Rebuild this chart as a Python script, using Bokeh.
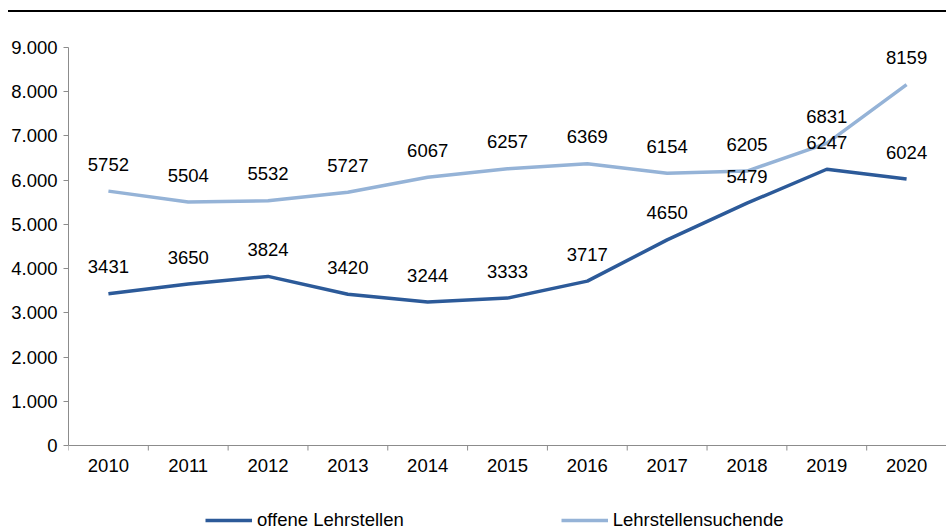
import math
from bokeh.plotting import figure
from bokeh.models import (Range1d, FactorRange, FixedTicker, Span,
                          Legend, LegendItem, Div, ColumnDataSource)
from bokeh.layouts import column
from bokeh.core.properties import value
from bokeh.embed import file_html
from bokeh.resources import INLINE

years = ["2010", "2011", "2012", "2013", "2014", "2015", "2016", "2017", "2018", "2019", "2020"]
offene = [3431, 3650, 3824, 3420, 3244, 3333, 3717, 4650, 5479, 6247, 6024]
suchende = [5752, 5504, 5532, 5727, 6067, 6257, 6369, 6154, 6205, 6831, 8159]
y_ticks = [0, 1000, 2000, 3000, 4000, 5000, 6000, 7000, 8000, 9000]
y_tick_labels = ["0", "1.000", "2.000", "3.000", "4.000", "5.000", "6.000", "7.000", "8.000", "9.000"]
series_names = ["offene Lehrstellen", "Lehrstellensuchende"]

DARK = "#2C5A99"
LIGHT = "#95B3D7"
GRAY = "#8C8C8C"
FONT = "Liberation Sans"
FS = "18.5px"

# layout constants (pixels): plot area for values 0..9000 is 398px tall,
# the frame continues 86px below zero to hold the category labels and legend
AXIS_PX = 398
BELOW_PX = 86
y_top = y_ticks[-1]
y_bottom = -y_top * BELOW_PX / AXIS_PX

p = figure(x_range=FactorRange(*years), y_range=Range1d(y_bottom, y_top),
           width=946, height=519, output_backend="svg", toolbar_location=None,
           x_axis_location=None, y_axis_location="left",
           min_border_left=68, min_border_right=0, min_border_top=35, min_border_bottom=0)
p.outline_line_color = None
p.grid.visible = False
p.background_fill_color = "white"

# y axis
ya = p.yaxis[0]
ya.ticker = FixedTicker(ticks=y_ticks)
ya.bounds = (y_ticks[0], y_ticks[-1])
ya.major_label_overrides = dict(zip(y_ticks, y_tick_labels))
ya.axis_line_color = GRAY
ya.major_tick_line_color = GRAY
ya.major_tick_out = 5
ya.major_tick_in = 0
ya.minor_tick_line_color = None
ya.major_label_standoff = 6
ya.major_label_text_font = FONT
ya.major_label_text_font_size = FS
ya.major_label_text_color = "black"

# x axis line at zero, tick marks at category boundaries, labels under categories
p.add_layout(Span(location=0, dimension="width", line_color=GRAY, line_width=1))
bounds = [float(i) for i in range(len(years))]
p.ray(x=bounds, y=[0] * len(bounds), length=5, length_units="screen",
      angle=-math.pi / 2, line_color=GRAY, line_width=1)
p.text(x=years, y=[0] * len(years), text=years, text_font=value(FONT),
       text_font_size=FS, text_align="center", text_baseline="middle",
       y_offset=20, text_color="black")

src = ColumnDataSource(dict(year=years, offene=offene, suchende=suchende,
                            offene_lbl=[str(v) for v in offene],
                            suchende_lbl=[str(v) for v in suchende]))

r1 = p.line("year", "offene", source=src, line_color=DARK, line_width=3.5)
r2 = p.line("year", "suchende", source=src, line_color=LIGHT, line_width=3.5)

for col in ["offene", "suchende"]:
    p.text("year", col, text=col + "_lbl", source=src, text_font=value(FONT),
           text_font_size=FS, text_align="center", text_baseline="middle",
           y_offset=-27, text_color="black")

legend = Legend(items=[LegendItem(label=series_names[0], renderers=[r1]),
                       LegendItem(label=series_names[1], renderers=[r2])],
                orientation="horizontal", location=(137, 0), glyph_width=47, glyph_height=18,
                label_standoff=5, spacing=157, padding=0, margin=0,
                border_line_color=None, background_fill_alpha=0,
                label_text_font=FONT, label_text_font_size=FS, label_text_color="black")
p.add_layout(legend, "center")

top = Div(text="", width=938, height=12, margin=(0, 0, 0, 8),
          styles={"border-bottom": "2px solid #000", "box-sizing": "border-box"})

layout = column(top, p)
open("out.html", "w").write(file_html(layout, INLINE))
